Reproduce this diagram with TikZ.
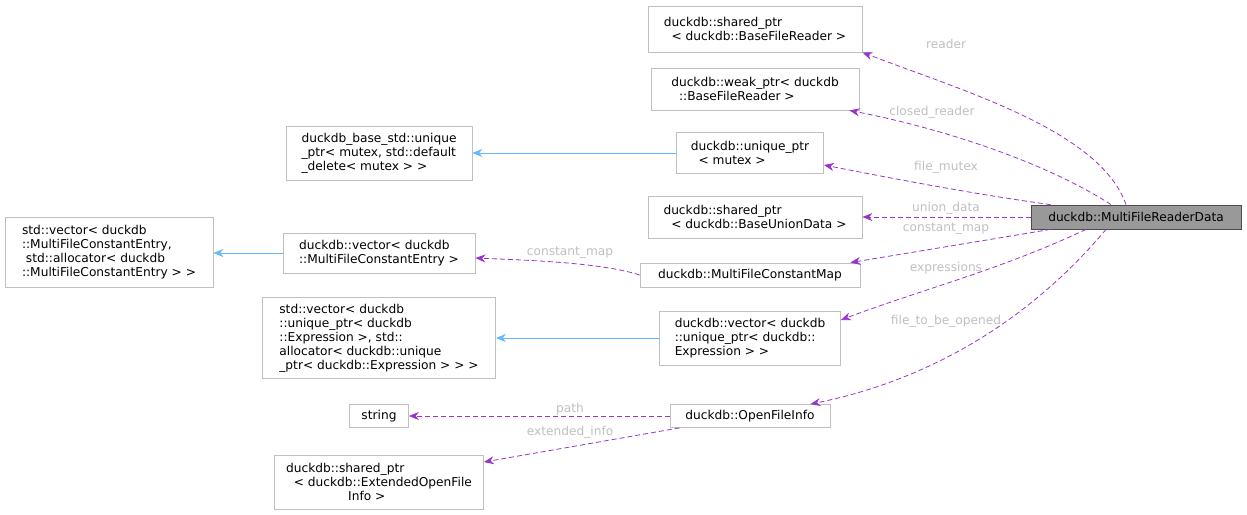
\documentclass[tikz,border=0pt]{standalone}
\usepackage{fontspec}
\setmainfont{DejaVu Sans}
\usetikzlibrary{arrows.meta,calc}
\definecolor{edgepurple}{HTML}{9A32CD}
\definecolor{inhblue}{HTML}{63B8FF}
\definecolor{boxgray}{HTML}{BFBFBF}
\tikzset{
  cls/.style={draw=boxgray, align=left, inner sep=0pt, anchor=center,
    font=\fontsize{12.2}{14}\selectfont, line width=0.8pt},
  member/.style={dash pattern=on 5pt off 3pt, draw=edgepurple, line width=0.8pt, -{Stealth[length=10pt,width=8pt]}},
  inherit/.style={draw=inhblue, line width=0.8pt, -{Stealth[length=10pt,width=8pt]}},
  elabel/.style={text=boxgray, font=\fontsize{12.2}{14}\selectfont, inner sep=0.5pt}
}
\begin{document}
\begin{tikzpicture}[x=1pt,y=-1pt]
\useasboundingbox (0,0) rectangle (1247,514);
% classes
\node[cls, minimum width=214, minimum height=46] (sbfr) at (755,29) {duckdb::shared\_ptr\\\ \ < duckdb::BaseFileReader >};
\node[cls, minimum width=208, minimum height=42] (wbfr) at (755,89) {duckdb::weak\_ptr< duckdb\\\ \ ::BaseFileReader >};
\node[cls, minimum width=186, minimum height=54] (bstd) at (379,153) {duckdb\_base\_std::unique\\\_ptr< mutex, std::default\\\_delete< mutex > >};
\node[cls, minimum width=147, minimum height=41] (umtx) at (750,153) {duckdb::unique\_ptr\\\ \ < mutex >};
\node[cls, minimum width=214, minimum height=42] (sbud) at (755,217) {duckdb::shared\_ptr\\\ \ < duckdb::BaseUnionData >};
\node[cls, fill=gray!80, draw=black!70, minimum width=210, minimum height=24] (mfrd) at (1136,217) {duckdb::MultiFileReaderData};
\node[cls, minimum width=208, minimum height=70] (svce) at (109,252) {std::vector< duckdb\\::MultiFileConstantEntry,\\\ std::allocator< duckdb\\::MultiFileConstantEntry > >};
\node[cls, minimum width=192, minimum height=40] (dvce) at (379,253) {duckdb::vector< duckdb\\::MultiFileConstantEntry >};
\node[cls, minimum width=220, minimum height=24] (mfcm) at (750,275) {duckdb::MultiFileConstantMap};
\node[cls, minimum width=233, minimum height=81] (svex) at (379,338) {std::vector< duckdb\\::unique\_ptr< duckdb\\::Expression >, std::\\allocator< duckdb::unique\\\_ptr< duckdb::Expression > > >};
\node[cls, minimum width=181, minimum height=54] (dvex) at (750,338) {duckdb::vector< duckdb\\::unique\_ptr< duckdb::\\Expression > >};
\node[cls, minimum width=59, minimum height=23] (strg) at (379,416) {string};
\node[cls, minimum width=160, minimum height=23] (ofi) at (750,416) {duckdb::OpenFileInfo};
\node[cls, minimum width=209, minimum height=54] (seof) at (379,482) {duckdb::shared\_ptr\\\ \ < duckdb::ExtendedOpenFile\\\ \ \ \ \ \ \ \ \ \ \ \ \ \ \ \ Info >};
% inheritance
\draw[inherit] (umtx.west) -- (bstd.east);
\draw[inherit] (dvce.west) -- (dvce.west -| svce.east);
\draw[inherit] (dvex.west) -- (svex.east);
% members
\draw[member] ($(mfrd.north)+(-10,0)$) .. controls (1100,130) and (960,90) .. (sbfr.south east);
\node[elabel] at (946,44) {reader};
\draw[member] ($(mfrd.north)+(-25,0)$) .. controls (1050,165) and (950,130) .. ($(wbfr.south east)+(-10,0)$);
\node[elabel] at (932,112) {closed\_reader};
\draw[member] ($(mfrd.north west)+(20,0)$) .. controls (980,195) and (900,180) .. (umtx.east |- 0,165);
\node[elabel] at (946,167) {file\_mutex};
\draw[member] (mfrd.west) -- (sbud.east);
\node[elabel] at (946,208) {union\_data};
\draw[member] ($(mfrd.south west)+(20,0)$) -- ($(mfcm.north east)+(-10,0)$);
\node[elabel] at (946,229) {constant\_map};
\draw[member] ($(mfrd.south)+(-50,0)$) .. controls (1000,270) and (920,290) .. ($(dvex.east)+(0,-18)$);
\node[elabel] at (946,268) {expressions};
\draw[member] ($(mfrd.south)+(-30,0)$) .. controls (1030,320) and (930,380) .. ($(ofi.north east)+(-20,0)$);
\node[elabel] at (946,321) {file\_to\_be\_opened};
\draw[member] (mfcm.west) .. controls (600,262) and (520,260) .. ($(dvce.east)+(0,5)$);
\node[elabel] at (570,253) {constant\_map};
\draw[member] (ofi.west) -- (strg.east);
\node[elabel] at (570,409) {path};
\draw[member] ($(ofi.south west)+(10,0)$) -- ($(seof.east)+(0,-20)$);
\node[elabel] at (570,432) {extended\_info};
\end{tikzpicture}
\end{document}
